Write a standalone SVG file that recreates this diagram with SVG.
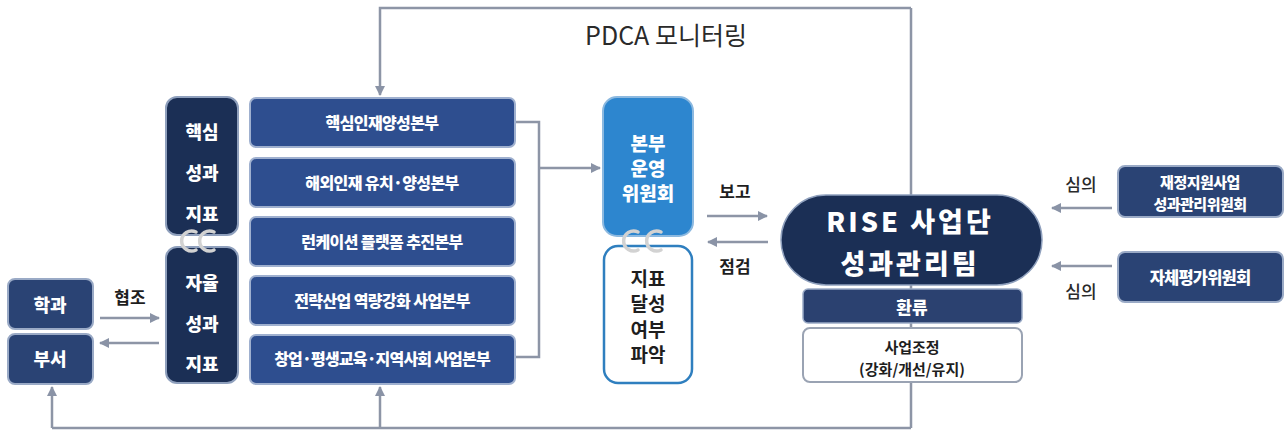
<svg xmlns="http://www.w3.org/2000/svg" width="1288" height="431" viewBox="0 0 1288 431">
<defs>
<marker id="ah" viewBox="0 0 10 10" refX="9" refY="5" markerWidth="4" markerHeight="4" orient="auto-start-reverse" markerUnits="strokeWidth">
<path d="M0,0 L10,5 L0,10 z" fill="#8a93a6"/>
</marker>
<style>
.ln{fill:none;stroke:#8d95a6;stroke-width:2.5}
.ar{fill:none;stroke:#8d95a6;stroke-width:2.5;marker-end:url(#ah)}
.bar{fill:#2e4e8f;stroke:#9fb0cf;stroke-width:2}
.navy{fill:#1b2f55;stroke:#8fa0bd;stroke-width:2}
.mid{fill:#2a4374;stroke:#9aaac6;stroke-width:2}
.wt{fill:#fff;font-family:"Noto Sans CJK KR","Noto Sans",sans-serif;font-weight:800;text-anchor:middle;dominant-baseline:central}
.dk{fill:#1e1e1e;font-family:"Noto Sans CJK KR","Noto Sans",sans-serif;font-weight:700;text-anchor:middle;dominant-baseline:central}
.dn{fill:#2a2a2a;font-family:"Noto Sans CJK KR","Noto Sans",sans-serif;font-weight:500;text-anchor:middle;dominant-baseline:central}
.chain{fill:none;stroke:#d2d2d2;stroke-width:3.5;stroke-linecap:round}
</style>
</defs>
<rect width="1288" height="431" fill="#fff"/>

<g id="connectors">
<path class="ln" d="M911,8 V428"/>
<path class="ar" d="M911,8 H380 V95"/>
<path class="ln" d="M911,428 H52"/>
<path class="ar" d="M52,428 V387"/>
<path class="ar" d="M380,428 V387"/>
<path class="ln" d="M516,122 H539 V357 H516"/>
<path class="ar" d="M539,168 H600"/>
<path class="ar" d="M100,318 H159"/>
<path class="ar" d="M159,343 H100"/>
<path class="ar" d="M707,216 H767"/>
<path class="ar" d="M768,242 H708"/>
<path class="ar" d="M1112,208 H1052"/>
<path class="ar" d="M1112,266 H1052"/>
</g>

<g id="label-pdca"><text class="dn" x="666" y="34" font-size="25" style="font-weight:400">PDCA 모니터링</text></g>
<g id="label-hyeopjo"><text class="dk" x="130" y="296" font-size="17" style="font-weight:600">협조</text></g>
<g id="label-bogo"><text class="dk" x="735" y="190" font-size="17" style="font-weight:600">보고</text></g>
<g id="label-jeomgeom"><text class="dk" x="735" y="265" font-size="17" style="font-weight:600">점검</text></g>
<g id="label-simui1"><text class="dn" x="1081" y="183" font-size="17">심의</text></g>
<g id="label-simui2"><text class="dn" x="1081" y="290" font-size="17">심의</text></g>

<g id="node-hakgwa">
<rect class="mid" x="8" y="279" width="85" height="50" rx="7"/>
<text class="wt" x="50" y="304" font-size="18">학과</text>
</g>
<g id="node-buseo">
<rect class="mid" x="8" y="334" width="85" height="50" rx="7"/>
<text class="wt" x="50" y="358" font-size="18">부서</text>
</g>

<g id="node-kpi-core">
<rect class="navy" x="166" y="97" width="72" height="138" rx="11"/>
<text class="wt" x="202" y="131" font-size="18">핵심</text>
<text class="wt" x="202" y="172" font-size="18">성과</text>
<text class="wt" x="202" y="213" font-size="18">지표</text>
</g>
<g id="node-kpi-auto">
<rect class="navy" x="166" y="247" width="72" height="136" rx="11"/>
<text class="wt" x="202" y="282" font-size="18">자율</text>
<text class="wt" x="202" y="323" font-size="18">성과</text>
<text class="wt" x="202" y="363" font-size="18">지표</text>
</g>
<g id="chain-kpi">
<path class="chain" d="M196,232 A10,10 0 1,0 196,250"/>
<path class="chain" d="M214,232 A10,10 0 1,0 214,250"/>
</g>

<g id="node-bar1">
<rect class="bar" x="250" y="98" width="265" height="49" rx="6"/>
<text class="wt" x="382" y="122" font-size="16" letter-spacing="-0.6">핵심인재양성본부</text>
</g>
<g id="node-bar2">
<rect class="bar" x="250" y="158" width="265" height="49" rx="6"/>
<text class="wt" x="382" y="182" font-size="16" letter-spacing="-0.6">해외인재 유치·양성본부</text>
</g>
<g id="node-bar3">
<rect class="bar" x="250" y="217" width="265" height="49" rx="6"/>
<text class="wt" x="382" y="241" font-size="16" letter-spacing="-0.6">런케이션 플랫폼 추진본부</text>
</g>
<g id="node-bar4">
<rect class="bar" x="250" y="276" width="265" height="49" rx="6"/>
<text class="wt" x="382" y="300" font-size="16" letter-spacing="-0.6">전략산업 역량강화 사업본부</text>
</g>
<g id="node-bar5">
<rect class="bar" x="250" y="335" width="265" height="49" rx="6"/>
<text class="wt" x="382" y="358" font-size="16" letter-spacing="-0.8">창업·평생교육·지역사회 사업본부</text>
</g>

<g id="node-committee">
<rect x="603" y="97" width="90" height="139" rx="14" fill="#2d86cf" stroke="#8cb9e0" stroke-width="2"/>
<text class="wt" x="648" y="142" font-size="19">본부</text>
<text class="wt" x="648" y="167" font-size="19">운영</text>
<text class="wt" x="648" y="192" font-size="19">위원회</text>
</g>
<g id="node-check">
<rect x="604" y="246" width="88" height="137" rx="14" fill="#fff" stroke="#2f7fbf" stroke-width="2.5"/>
<text class="dk" x="648" y="277" font-size="19">지표</text>
<text class="dk" x="648" y="302" font-size="19">달성</text>
<text class="dk" x="648" y="328" font-size="19">여부</text>
<text class="dk" x="648" y="353" font-size="19">파악</text>
</g>
<g id="chain-committee">
<path class="chain" d="M638,232 A10,10 0 1,0 638,250"/>
<path class="chain" d="M661,232 A10,10 0 1,0 661,250"/>
</g>

<g id="node-rise">
<rect x="781" y="195" width="261" height="90" rx="45" fill="#1b2f55" stroke="#8fa0bd" stroke-width="1.5"/>
<text class="wt" x="910" y="220" font-size="27" letter-spacing="3">RISE 사업단</text>
<text class="wt" x="910" y="262" font-size="27" letter-spacing="3">성과관리팀</text>
</g>
<g id="node-feedback">
<rect x="803" y="289" width="219" height="34" rx="5" fill="#2b4170" stroke="#9aaac6" stroke-width="1.5"/>
<text class="wt" x="912" y="306" font-size="17">환류</text>
</g>
<g id="node-adjust">
<rect x="803" y="328" width="219" height="54" rx="7" fill="#fff" stroke="#9aa3b3" stroke-width="2"/>
<text class="dk" x="912" y="346" font-size="15" style="font-weight:600">사업조정</text>
<text class="dk" x="912" y="368" font-size="15" style="font-weight:600">(강화/개선/유지)</text>
</g>

<g id="node-finance">
<rect class="mid" x="1118" y="166" width="165" height="51" rx="7"/>
<text class="wt" x="1200" y="181" font-size="15" letter-spacing="-0.5">재정지원사업</text>
<text class="wt" x="1200" y="203" font-size="15" letter-spacing="-0.5">성과관리위원회</text>
</g>
<g id="node-selfeval">
<rect class="mid" x="1118" y="252" width="165" height="50" rx="7"/>
<text class="wt" x="1200" y="277" font-size="16.5" letter-spacing="-0.8">자체평가위원회</text>
</g>
</svg>
